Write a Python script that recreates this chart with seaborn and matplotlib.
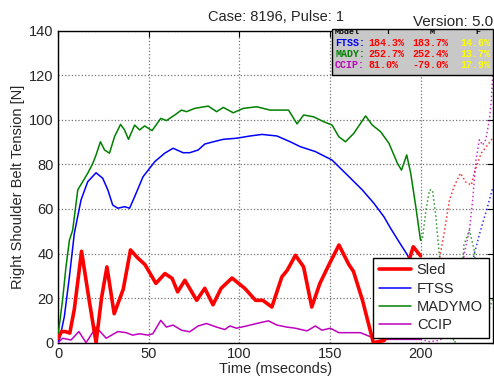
import matplotlib
matplotlib.use("Agg")
import matplotlib.pyplot as plt
import seaborn as sns
from matplotlib.patches import Rectangle

# Datos (tiempo en ms, tension en N)
sled_t = [0, 2, 4, 6.5, 9, 13, 17, 21, 24, 27, 31, 36, 40, 44, 48, 54, 59, 63, 66, 70,
          76.5, 81, 85.5, 90, 96, 103, 109, 113, 118, 123.5, 126.5, 131, 135.5, 140,
          144.5, 149.5, 155, 160.5, 163, 168, 174, 180, 186, 191, 196, 200]
sled_v = [2, 5, 5, 4.3, 15, 41, 20, 0, 20, 34, 13, 24, 41.6, 38, 35, 26.6, 31, 28.8, 22.8, 28,
          19, 24.4, 17, 24.4, 29, 24.4, 19, 19, 16, 29.5, 32.5, 39.2, 34, 16,
          26.6, 35, 43.8, 35, 32, 19, 0, 1, 10, 30, 43, 39]
sled_t_ext = [200, 203, 206, 209, 211, 213, 216, 218.5, 222, 225, 228, 230, 233.5, 237, 240]
sled_v_ext = [39, 30, 20, 30, 40, 49, 64, 70, 76, 72, 70.7, 77, 85, 88.6, 92]

ftss_t = [0, 1, 3.5, 6.3, 9, 12.7, 16.4, 21, 24.7, 27.5, 30.2, 33, 36.7, 39.5, 42.3, 46.9,
          53.4, 58.9, 63.5, 69, 72.7, 77.3, 81, 85.7, 91.2, 98.6, 106, 112.5, 120.8, 128.1,
          133.7, 142, 151.2, 159.6, 167.9, 174.3, 179.8, 183.5, 188.1, 192.8, 196, 200]
ftss_v = [0, 2, 11.7, 29.6, 49, 64, 72.2, 76.2, 73.7, 68.5, 61.7, 60.3, 61, 60.3, 65.5, 74.4,
          81.2, 85, 87.2, 85.2, 85.2, 86.4, 89.1, 90.1, 91.2, 91.7, 92.7, 93.4, 92.7, 90.1,
          87.9, 85.7, 81.9, 75.2, 68.5, 62.5, 56.5, 51.3, 45.3, 39.3, 33, 25]
ftss_t_ext = [200, 205, 210, 215, 220, 225, 229.7, 233, 237, 240]
ftss_v_ext = [25, 15, 8, 4, 8, 20, 40, 50, 61, 70]

mady_t = [0, 2.5, 4.4, 6.3, 8.1, 10.9, 13.6, 16.4, 19.2, 21, 23.4, 25.7, 28.4, 31.2, 34.5,
          36.7, 38.9, 42.3, 45, 47.8, 51.9, 56.7, 59.8, 64.4, 68.1, 70.9, 75.5, 82.9, 87.5,
          91.2, 96.7, 102.3, 109.7, 117, 127.2, 131.9, 135.5, 141, 146.6, 151.2, 154.9,
          158.6, 163.2, 169.7, 173.4, 178, 182.6, 187.3, 189.5, 192.4, 194.6, 197.4, 200]
mady_v = [3, 19, 34, 46, 50.5, 68.5, 72.2, 76, 80.4, 84.2, 90.1, 86.4, 85, 92.4, 97.9,
          95.4, 91.2, 97.6, 95.4, 97.2, 95.1, 100.6, 99.6, 102.1, 104.3, 103.6, 105.1, 106.1, 103.6,
          105.5, 103.1, 105.1, 105.8, 104.3, 104.3, 98.1, 102.1, 101.3, 99.1, 97.6, 92.4,
          90.1, 93.9, 101.7, 97.6, 94.6, 89.4, 80.4, 77.4, 84.2, 76, 61, 46]
mady_t_ext = [200, 201, 203, 205, 206.6, 208.5, 210.3, 213, 216, 219, 222, 224, 227, 229.5, 232, 236, 240]
mady_v_ext = [46, 46, 59.5, 68.5, 68.5, 56.5, 40, 20, 5, 0, 20, 44, 50.5, 42, 25, 10, 20]

ccip_t = [0, 2.6, 7.2, 11.5, 15.5, 21, 26.6, 33, 37.6, 41.2, 45, 49.6, 52.3, 56.7, 59.8,
          63.5, 68.1, 72.7, 77.3, 81.9, 87.5, 92, 94.8, 98.5, 104, 109.5, 116.1, 120.8, 126.3,
          130.9, 137.4, 142, 145.6, 150.3, 154.9, 161.3, 166.8, 172.3, 180, 190, 200]
ccip_v = [0, 2, 1.2, 5, 0, 7, 2, 5, 4.5, 3.4, 4, 3.4, 4, 10, 7,
          7.9, 5.6, 4.9, 7.5, 8.6, 7, 5.9, 7.5, 6.5, 7.5, 8.6, 9.8, 7.9, 7,
          6.5, 5.3, 7.5, 5.6, 6.5, 4.5, 4.5, 4.5, 2.7, 1.5, 1.5, 1.5]
ccip_t_ext = [200, 205, 210, 215, 220, 224.2, 227, 228.8, 230.6, 232.5, 234.3, 236, 238, 239, 240]
ccip_v_ext = [1.5, 0.5, 1, 3, 15, 40, 50.5, 64, 82, 91, 88.6, 91, 100, 108, 122]

# Tabla de errores
tabla_modelos = ["FTSS:", "MADY:", "CCIP:"]
tabla_T = ["184.3%", "252.7%", "81.0%"]
tabla_M = ["183.7%", "252.4%", "-79.0%"]
tabla_F = ["14.6%", "13.7%", "17.9%"]

rojo = "#ff0000"
azul = "#0000ff"
verde = "#008000"
magenta = "#bf00bf"
colores_modelos = [azul, verde, magenta]

sns.set_style("white")
plt.rcParams["font.family"] = ["Liberation Sans", "DejaVu Sans"]

W, H = 494, 383
fig = plt.figure(figsize=(W / 100, H / 100), dpi=100)
ax = fig.add_axes([58 / W, 1 - 342.7 / H, (493 - 58) / W, (342.7 - 30.5) / H])

kw = dict(ax=ax, estimator=None, sort=False)
sns.lineplot(x=sled_t, y=sled_v, color=rojo, linewidth=2.6, label="Sled", zorder=4, **kw)
sns.lineplot(x=ftss_t, y=ftss_v, color=azul, linewidth=1.1, label="FTSS", zorder=3, **kw)
sns.lineplot(x=mady_t, y=mady_v, color=verde, linewidth=1.1, label="MADYMO", zorder=3, **kw)
sns.lineplot(x=ccip_t, y=ccip_v, color=magenta, linewidth=1.1, label="CCIP", zorder=3, **kw)

# continuacion punteada despues de 200 ms
for t, v, c in [(sled_t_ext, sled_v_ext, rojo), (ftss_t_ext, ftss_v_ext, azul),
                (mady_t_ext, mady_v_ext, verde), (ccip_t_ext, ccip_v_ext, magenta)]:
    sns.lineplot(x=t, y=v, color=c, linewidth=1.1, linestyle=":", alpha=0.8,
                 legend=False, zorder=2, **kw)

ax.set_xlim(0, 240)
ax.set_ylim(0, 140)
ax.set_xticks([0, 50, 100, 150, 200])
ax.set_yticks(range(0, 141, 20))
ax.grid(True, linestyle=":", color="0.45", linewidth=0.9)
ax.tick_params(direction="in", length=4, top=True, right=True, labelsize=10.5, pad=3,
               color="black")
for s in ax.spines.values():
    s.set_color("black")
    s.set_linewidth(1.0)

ax.set_xlabel("Time (mseconds)", fontsize=10.5, labelpad=1)
ax.set_ylabel("Right Shoulder Belt Tension [N]", fontsize=10.5, labelpad=3)
ax.set_title("Case: 8196, Pulse: 1", fontsize=10.5, pad=7)
fig.text(493 / W, 1 - 22 / H, "Version: 5.0", ha="right", va="center", fontsize=11)

leg = ax.legend(loc="lower right", fontsize=10.5, fancybox=False, edgecolor="black",
                framealpha=1, borderaxespad=0.3, handlelength=2.2, labelspacing=0.3,
                handletextpad=0.4, borderpad=0.4)
leg.get_frame().set_linewidth(1.0)
leg.set_zorder(10)

# caja de la tabla
caja = Rectangle((331.7 / W, 1 - 75 / H), (493 - 331.7) / W, (75 - 29.3) / H,
                 transform=fig.transFigure, facecolor="#c8c8c8", edgecolor="black",
                 linewidth=1.0, zorder=10)
fig.patches.append(caja)

mono = dict(family="Liberation Mono", weight="bold", va="center", zorder=11)
fig.text(335 / W, 1 - 32.5 / H, "Model", color="black", fontsize=6, **mono)
for x, h in [(386, "T"), (430, "M"), (475, "F")]:
    fig.text(x / W, 1 - 32.5 / H, h, color="black", fontsize=6, **mono)
for i, nombre in enumerate(tabla_modelos):
    y = 1 - (43 + 10.8 * i) / H
    fig.text(335 / W, y, nombre, color=colores_modelos[i], fontsize=7.2, **mono)
    fig.text(368.3 / W, y, tabla_T[i], color=rojo, fontsize=7.2, **mono)
    fig.text(412.7 / W, y, tabla_M[i], color=rojo, fontsize=7.2, **mono)
    fig.text(460.7 / W, y, tabla_F[i], color="#ffff00", fontsize=7.2, **mono)

fig.savefig("out.png", dpi=100)
